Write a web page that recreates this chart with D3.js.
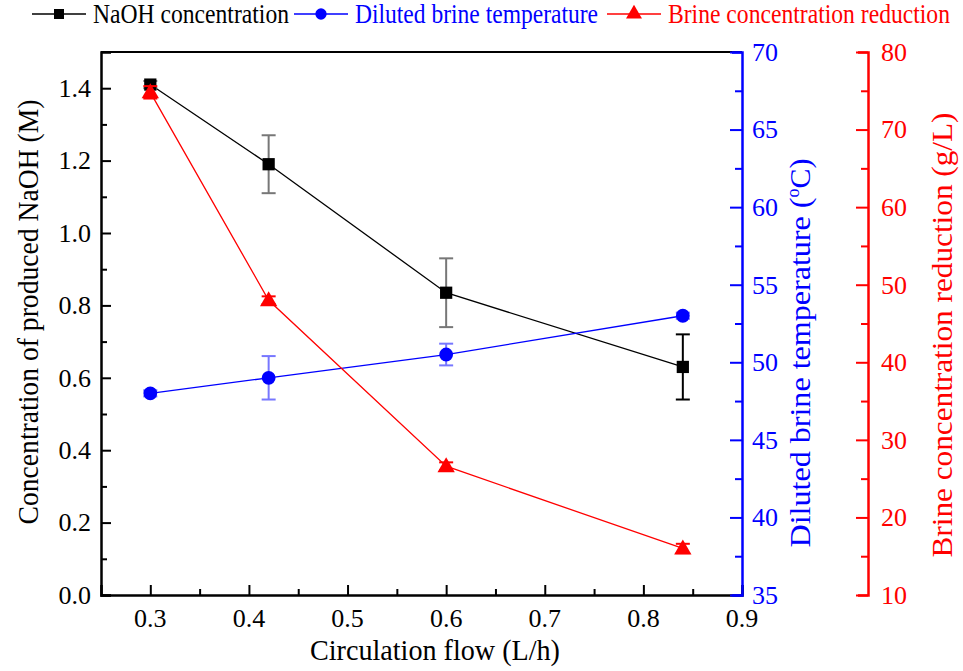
<!DOCTYPE html>
<html>
<head>
<meta charset="utf-8">
<script src="https://cdn.jsdelivr.net/npm/d3@7"></script>
<style>
  body { margin: 0; background: #fff; }
  svg text { font-family: "Liberation Serif", "Times New Roman", Times, serif; }
</style>
</head>
<body>
<svg></svg>
<script>
const size = {w: 963, h: 671};
const svg = d3.select('svg').attr('width', size.w).attr('height', size.h)
  .attr('font-family', 'Liberation Serif');

// data
const flow = [0.3, 0.42, 0.6, 0.84];
const naoh = [1.41, 1.19, 0.835, 0.63];
const naohErr = [0.01, 0.08, 0.095, 0.09];
const temp = [48.0, 49.0, 50.5, 53.0];
const tempErr = [0.2, 1.4, 0.7, 0.2];
const brine = [74.8, 48.0, 26.6, 16.0];
const brineErr = [0.8, 0.5, 0.5, 0.6];

const xTicks = [0.3, 0.4, 0.5, 0.6, 0.7, 0.8, 0.9];
const leftTicks = [0, 0.2, 0.4, 0.6, 0.8, 1.0, 1.2, 1.4];
const blueTicks = [35, 40, 45, 50, 55, 60, 65, 70];
const redTicks = [10, 20, 30, 40, 50, 60, 70, 80];

const plot = {l: 101, r: 742, t: 52, b: 595};
const redAxisX = 868;

const x = d3.scaleLinear().domain([0.25, 0.9]).range([plot.l, plot.r]);
const yL = d3.scaleLinear().domain([0, 1.5]).range([plot.b, plot.t]);
const yB = d3.scaleLinear().domain([35, 70]).range([plot.b, plot.t]);
const yR = d3.scaleLinear().domain([10, 80]).range([plot.b, plot.t]);

// frame top line
svg.append('line').attr('x1', plot.l).attr('x2', plot.r)
  .attr('y1', plot.t).attr('y2', plot.t).attr('stroke', '#000').attr('stroke-width', 2);

function styleAxis(g, color) {
  g.selectAll('path, line').attr('stroke', color);
  g.select('.domain').attr('stroke-width', 2.5);
  g.selectAll('.tick line').attr('stroke-width', 2);
  g.selectAll('.tick text').remove();
}

// axis lines and ticks (all ticks point into the plot, minor ones shorter)
const xAx = svg.append('g').attr('transform', `translate(0,${plot.b})`)
  .call(d3.axisBottom(x).tickValues(d3.range(0.3, 0.91, 0.05)).tickSize(-10));
styleAxis(xAx, '#000');
xAx.selectAll('.tick line').attr('y2', (d, i) => i % 2 === 0 ? -10 : -6);

const lAx = svg.append('g').attr('transform', `translate(${plot.l},0)`)
  .call(d3.axisLeft(yL).tickValues(d3.range(0, 1.41, 0.1)).tickSize(-10));
styleAxis(lAx, '#000');
lAx.selectAll('.tick line').attr('x2', (d, i) => i % 2 === 0 ? 10 : 6);

const bAx = svg.append('g').attr('transform', `translate(${plot.r},0)`)
  .call(d3.axisRight(yB).tickValues(d3.range(35, 70.1, 2.5)).tickSize(-10));
styleAxis(bAx, '#0000ff');
bAx.selectAll('.tick line').attr('x2', (d, i) => i % 2 === 0 ? -12 : -7);

const rAx = svg.append('g').attr('transform', `translate(${redAxisX},0)`)
  .call(d3.axisRight(yR).tickValues(d3.range(10, 80.1, 5)).tickSize(-10));
styleAxis(rAx, '#ff0000');
rAx.selectAll('.tick line').attr('x2', (d, i) => i % 2 === 0 ? -12 : -7);

// tick labels, drawn from the same scales
const labels = svg.append('g').attr('font-size', 26);
labels.selectAll('text.xl').data(xTicks).join('text').attr('class', 'xl')
  .attr('x', d => x(d)).attr('y', plot.b + 32).attr('text-anchor', 'middle')
  .text(d => d.toFixed(1));
labels.selectAll('text.ll').data(leftTicks).join('text').attr('class', 'll')
  .attr('x', plot.l - 10).attr('y', d => yL(d)).attr('dy', '0.34em').attr('text-anchor', 'end')
  .text(d => d.toFixed(1));
labels.selectAll('text.bl').data(blueTicks).join('text').attr('class', 'bl')
  .attr('x', plot.r + 10).attr('y', d => yB(d)).attr('dy', '0.34em').attr('fill', '#0000ff')
  .text(d => d);
labels.selectAll('text.rl').data(redTicks).join('text').attr('class', 'rl')
  .attr('x', redAxisX + 13).attr('y', d => yR(d)).attr('dy', '0.34em').attr('fill', '#ff0000')
  .text(d => d);

// axis titles (condensed like the original)
svg.append('text').attr('x', 435).attr('y', 660).attr('text-anchor', 'middle')
  .attr('font-size', 30).attr('textLength', 250).attr('lengthAdjust', 'spacingAndGlyphs')
  .text('Circulation flow (L/h)');
svg.append('text').attr('transform', 'translate(38,312) rotate(-90)')
  .attr('text-anchor', 'middle').attr('font-size', 30)
  .attr('textLength', 425).attr('lengthAdjust', 'spacingAndGlyphs')
  .text('Concentration of produced NaOH (M)');
const bt = svg.append('text').attr('transform', 'translate(810,353) rotate(-90)')
  .attr('text-anchor', 'middle').attr('font-size', 30).attr('fill', '#0000ff');
bt.append('tspan').attr('textLength', 350).attr('lengthAdjust', 'spacingAndGlyphs').text('Diluted brine temperature (');
bt.append('tspan').attr('dy', -11).attr('font-size', 18).text('o');
bt.append('tspan').attr('dy', 11).text('C)');
svg.append('text').attr('transform', 'translate(952,335) rotate(-90)')
  .attr('text-anchor', 'middle').attr('font-size', 30).attr('fill', '#ff0000')
  .attr('textLength', 445).attr('lengthAdjust', 'spacingAndGlyphs')
  .text('Brine concentration reduction (g/L)');

// series
const series = [
  {vals: naoh, err: naohErr, y: yL, color: '#000', errColor: '#777', shape: d3.symbolSquare, sz: 150},
  {vals: temp, err: tempErr, y: yB, color: '#0000ff', errColor: '#7777ff', shape: d3.symbolCircle, sz: 150},
  {vals: brine, err: brineErr, y: yR, color: '#ff0000', errColor: '#ff0000', shape: d3.symbolTriangle, sz: 130}
];

series.forEach(s => {
  const g = svg.append('g');
  const line = d3.line().x((d, i) => x(flow[i])).y(d => s.y(d));
  g.append('path').attr('d', line(s.vals)).attr('fill', 'none')
    .attr('stroke', s.color).attr('stroke-width', 1.3);
  s.vals.forEach((v, i) => {
    const cx = x(flow[i]);
    const y1 = s.y(v - s.err[i]), y2 = s.y(v + s.err[i]);
    const col = (s.color === '#000' && i === 3) ? '#000' : s.errColor;
    g.append('line').attr('x1', cx).attr('x2', cx).attr('y1', y1).attr('y2', y2)
      .attr('stroke', col).attr('stroke-width', 2);
    [y1, y2].forEach(yy => g.append('line').attr('x1', cx - 7).attr('x2', cx + 7)
      .attr('y1', yy).attr('y2', yy).attr('stroke', col).attr('stroke-width', 2));
    g.append('path').attr('d', d3.symbol(s.shape, s.sz)())
      .attr('transform', `translate(${cx},${s.y(v) + (s.shape === d3.symbolTriangle ? 1 : 0)})`)
      .attr('fill', s.color);
  });
});

// legend
const legend = [
  {label: 'NaOH concentration', color: '#000', shape: d3.symbolSquare, sz: 100, x: 32, tw: 196},
  {label: 'Diluted brine temperature', color: '#0000ff', shape: d3.symbolCircle, sz: 100, x: 294, tw: 243},
  {label: 'Brine concentration reduction', color: '#ff0000', shape: d3.symbolTriangle, sz: 110, x: 607, tw: 282}
];
legend.forEach(l => {
  const g = svg.append('g').attr('transform', `translate(${l.x},14)`);
  g.append('line').attr('x1', 0).attr('x2', 54).attr('stroke', l.color).attr('stroke-width', 1.5);
  g.append('path').attr('d', d3.symbol(l.shape, l.sz)()).attr('transform', 'translate(27,0)').attr('fill', l.color);
  g.append('text').attr('x', 61).attr('y', 9).attr('font-size', 27)
    .attr('textLength', l.tw).attr('lengthAdjust', 'spacingAndGlyphs')
    .attr('fill', l.color).text(l.label);
});
</script>
</body>
</html>
